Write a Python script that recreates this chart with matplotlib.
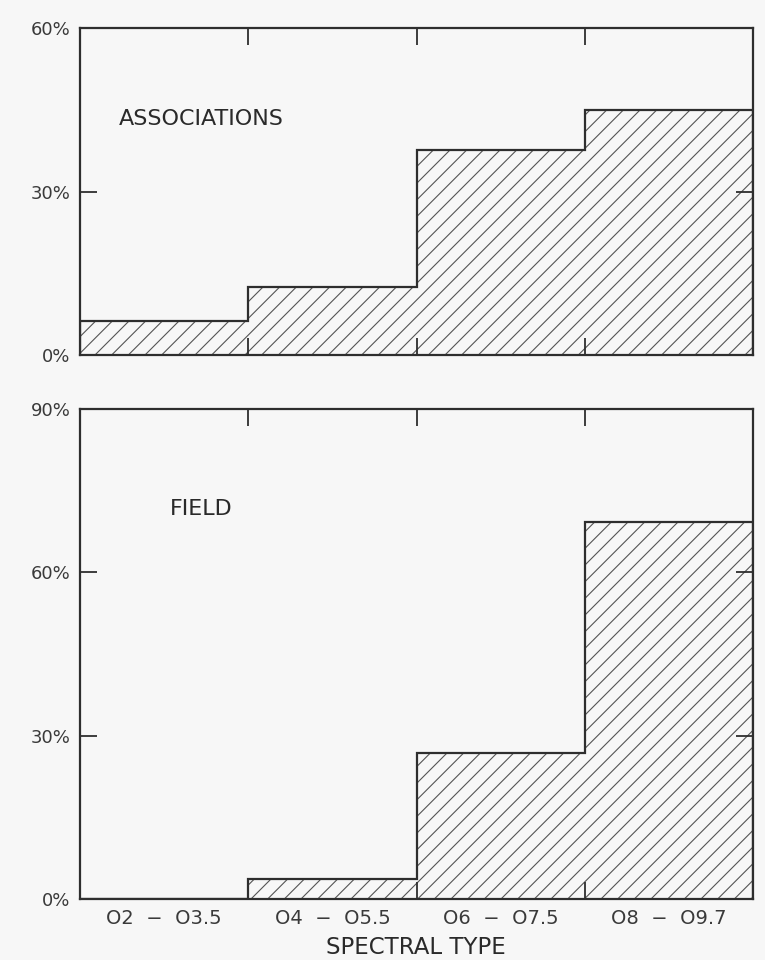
import matplotlib

matplotlib.use("Agg")
import matplotlib.pyplot as plt
import numpy as np

# spectral type bins (equal width) and fraction of stars per bin, in percent
bin_labels = ["O2  \u2212  O3.5", "O4  \u2212  O5.5", "O6  \u2212  O7.5", "O8  \u2212  O9.7"]
associations_pct = [6.2, 12.5, 37.6, 45.0]
field_pct = [0.0, 3.7, 26.8, 69.3]

INK = "#2e2e2e"
BG = "#f7f7f7"

plt.rcParams["font.family"] = ["DejaVu Sans"]
plt.rcParams["hatch.color"] = "#555555"
plt.rcParams["hatch.linewidth"] = 0.8


def draw_panel(ax, values, ymax, yticks, title, title_y, show_xlabels):
    edges = np.arange(len(values) + 1)
    ax.set_facecolor(BG)
    ax.stairs(values, edges, fill=True, facecolor="none", edgecolor="#555555",
              hatch="//", linewidth=0)
    ax.stairs(values, edges, color=INK, linewidth=1.6)
    ax.set_xlim(edges[0], edges[-1])
    ax.set_ylim(0, ymax)

    ax.set_xticks(edges[1:-1])
    ax.set_xticklabels([])
    ax.tick_params(axis="x", which="major", direction="in", length=12, width=1.3,
                   color=INK, top=True, bottom=True)
    ax.set_yticks(yticks)
    ax.set_yticklabels([f"{int(v)}%" for v in yticks], fontsize=13, color="#3a3a3a")
    ax.tick_params(axis="y", direction="in", length=12, width=1.3, color=INK,
                   left=True, right=True, pad=7)

    if show_xlabels:
        centers = (edges[:-1] + edges[1:]) / 2
        ax.set_xticks(centers, minor=True)
        ax.set_xticklabels(bin_labels, minor=True, fontsize=14, color="#3a3a3a")
        ax.tick_params(axis="x", which="minor", length=0, pad=7)

    for sp in ax.spines.values():
        sp.set_color(INK)
        sp.set_linewidth(1.6)

    ax.text(0.18, title_y, title, transform=ax.transAxes, ha="center", va="center",
            fontsize=16, color="#2a2a2a")


fig = plt.figure(figsize=(7.65, 9.6), dpi=100, facecolor=BG)
ax_top = fig.add_axes([0.1046, 0.6302, 0.8797, 0.3406])
ax_bot = fig.add_axes([0.1046, 0.0635, 0.8797, 0.5104])

draw_panel(ax_top, associations_pct, 60, [0, 30, 60], "ASSOCIATIONS", 0.722, False)
draw_panel(ax_bot, field_pct, 90, [0, 30, 60, 90], "FIELD", 0.796, True)

fig.text(0.544, 0.013, "SPECTRAL TYPE", ha="center", va="center", fontsize=16.5,
         color="#2a2a2a")

fig.savefig("out.png", dpi=100, facecolor=BG)
